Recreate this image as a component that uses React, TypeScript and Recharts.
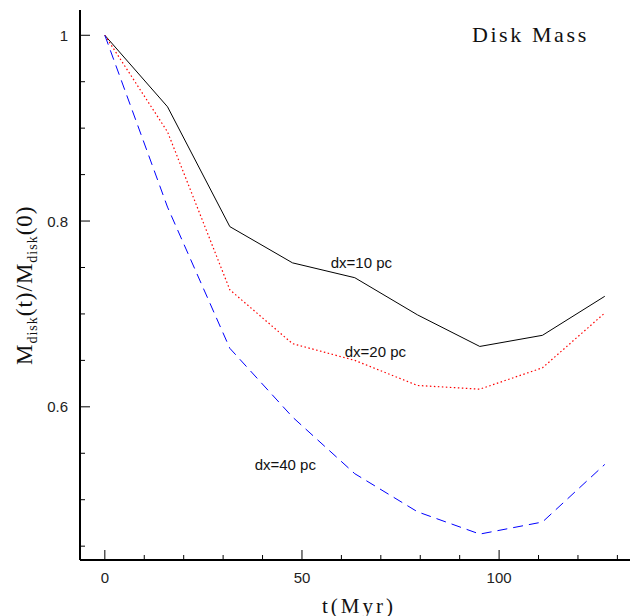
import React from 'react';
import { LineChart, Line, XAxis, YAxis, ReferenceDot, Label } from 'recharts';

// time in Myr and normalised disk mass for three resolutions
const tMyr = [0, 15.9, 31.7, 47.6, 63.4, 79.3, 95.1, 111.0, 126.8];
const dx10 = [1, 0.923, 0.794, 0.755, 0.739, 0.699, 0.665, 0.677, 0.719];
const dx20 = [1, 0.896, 0.726, 0.668, 0.650, 0.623, 0.619, 0.642, 0.701];
const dx40 = [1, 0.815, 0.663, 0.589, 0.528, 0.487, 0.463, 0.476, 0.538];

const xTicks = [0, 10, 20, 30, 40, 50, 60, 70, 80, 90, 100, 110, 120, 130];
const xMajor = [0, 50, 100];
const yTicks = [0.45, 0.5, 0.55, 0.6, 0.65, 0.7, 0.75, 0.8, 0.85, 0.9, 0.95, 1];
const yMajor = [0.6, 0.8, 1];

const title = 'Disk Mass';
const titleAt = { t: 93.1, m: 0.993 };
const seriesNames = ['dx=10 pc', 'dx=20 pc', 'dx=40 pc'];
const nameAt = [
  { t: 57.3, m: 0.7495 },
  { t: 60.85, m: 0.6532 },
  { t: 38.0, m: 0.5315 },
];

const data = tMyr.map((t, i) => ({ t, dx10: dx10[i], dx20: dx20[i], dx40: dx40[i] }));

const sans = '"Liberation Sans", Arial, sans-serif';
const serif = '"Liberation Serif", "Times New Roman", serif';

const isMajor = (v: number, majors: number[]) => majors.some((m) => Math.abs(m - v) < 1e-6);

const BottomTick = ({ x, y, payload }: any) => {
  const major = isMajor(payload.value, xMajor);
  return (
    <g>
      <line x1={x} x2={x} y1={y} y2={y - (major ? 10 : 5)} stroke="#000" strokeWidth={1} />
      {major && (
        <text x={x} y={y + 23} textAnchor="middle" fontFamily={sans} fontSize={15} fill="#222">
          {payload.value}
        </text>
      )}
    </g>
  );
};

const TopTick = ({ x, y, payload }: any) => {
  const major = isMajor(payload.value, xMajor);
  return <line x1={x} x2={x} y1={y} y2={y + (major ? 10 : 5)} stroke="#000" strokeWidth={1} />;
};

const LeftTick = ({ x, y, payload }: any) => {
  const major = isMajor(payload.value, yMajor);
  return (
    <g>
      <line x1={x} x2={x + (major ? 10 : 5)} y1={y} y2={y} stroke="#000" strokeWidth={1} />
      {major && (
        <text x={x - 12} y={y + 5.5} textAnchor="end" fontFamily={sans} fontSize={15} fill="#222">
          {String(payload.value)}
        </text>
      )}
    </g>
  );
};

const RightTick = ({ x, y, payload }: any) => {
  const major = isMajor(payload.value, yMajor);
  return <line x1={x} x2={x - (major ? 10 : 5)} y1={y} y2={y} stroke="#000" strokeWidth={1} />;
};

const YTitle = ({ viewBox }: any) => {
  const cy = viewBox.y + viewBox.height / 2;
  return (
    <text
      transform={`translate(32, ${cy + 80}) rotate(-90)`}
      x={0}
      y={0}
      fontFamily={serif}
      fontSize={23}
      letterSpacing={1}
      fill="#111"
    >
      M
      <tspan fontSize={14} dy={5}>disk</tspan>
      <tspan dy={-5}>(t)/M</tspan>
      <tspan fontSize={14} dy={5}>disk</tspan>
      <tspan dy={-5}>(0)</tspan>
    </text>
  );
};

const XTitle = ({ viewBox }: any) => (
  <text
    x={viewBox.x + viewBox.width / 2 - 33}
    y={viewBox.y + 52.5}
    fontFamily={serif}
    fontSize={21}
    letterSpacing={3}
    fill="#111"
  >
    t(Myr)
  </text>
);

const axisStroke = { stroke: '#000', strokeWidth: 2 };

export default function App() {
  return (
    <div style={{ position: 'absolute', left: 0, top: 0, background: '#fff' }}>
      <LineChart width={630} height={616} data={data} margin={{ top: 10, right: 0, bottom: 0, left: 0 }}>
        <XAxis
          xAxisId="b"
          dataKey="t"
          type="number"
          domain={[-6.3, 133.2]}
          ticks={xTicks}
          interval={0}
          tickSize={0}
          tickMargin={0}
          tick={<BottomTick />}
          axisLine={axisStroke}
          height={56}
          allowDataOverflow
        >
          <Label content={<XTitle />} />
        </XAxis>
        <XAxis
          xAxisId="top"
          orientation="top"
          dataKey="t"
          type="number"
          domain={[-6.3, 133.2]}
          ticks={xTicks}
          interval={0}
          tickSize={0}
          tickMargin={0}
          tick={<TopTick />}
          axisLine={axisStroke}
          height={0}
          allowDataOverflow
        />
        <YAxis
          yAxisId="l"
          type="number"
          domain={[0.4351, 1.0272]}
          ticks={yTicks}
          interval={0}
          tickSize={0}
          tickMargin={0}
          tick={<LeftTick />}
          axisLine={axisStroke}
          width={80}
          allowDataOverflow
        >
          <Label content={<YTitle />} />
        </YAxis>
        <YAxis
          yAxisId="r"
          orientation="right"
          type="number"
          domain={[0.4351, 1.0272]}
          ticks={yTicks}
          interval={0}
          tickSize={0}
          tickMargin={0}
          tick={<RightTick />}
          axisLine={axisStroke}
          width={0}
          allowDataOverflow
        />
        <Line xAxisId="b" yAxisId="l" type="linear" dataKey="dx10" stroke="#000" strokeWidth={1} dot={false} isAnimationActive={false} />
        <Line xAxisId="b" yAxisId="l" type="linear" dataKey="dx20" stroke="#ff0000" strokeWidth={1.2} strokeDasharray="1.5 2.5" dot={false} isAnimationActive={false} />
        <Line xAxisId="b" yAxisId="l" type="linear" dataKey="dx40" stroke="#0000ff" strokeWidth={1} strokeDasharray="10 6" dot={false} isAnimationActive={false} />
        {seriesNames.map((name, i) => (
          <ReferenceDot
            key={name}
            xAxisId="b"
            yAxisId="l"
            x={nameAt[i].t}
            y={nameAt[i].m}
            shape={(p: any) => (
              <text x={p.cx} y={p.cy} fontFamily={sans} fontSize={15} fill="#111">
                {name}
              </text>
            )}
          />
        ))}
        <ReferenceDot
          xAxisId="b"
          yAxisId="l"
          x={titleAt.t}
          y={titleAt.m}
          shape={(p: any) => (
            <text x={p.cx} y={p.cy} fontFamily={serif} fontSize={22} letterSpacing={2.6} fill="#111">
              {title}
            </text>
          )}
        />
      </LineChart>
    </div>
  );
}
